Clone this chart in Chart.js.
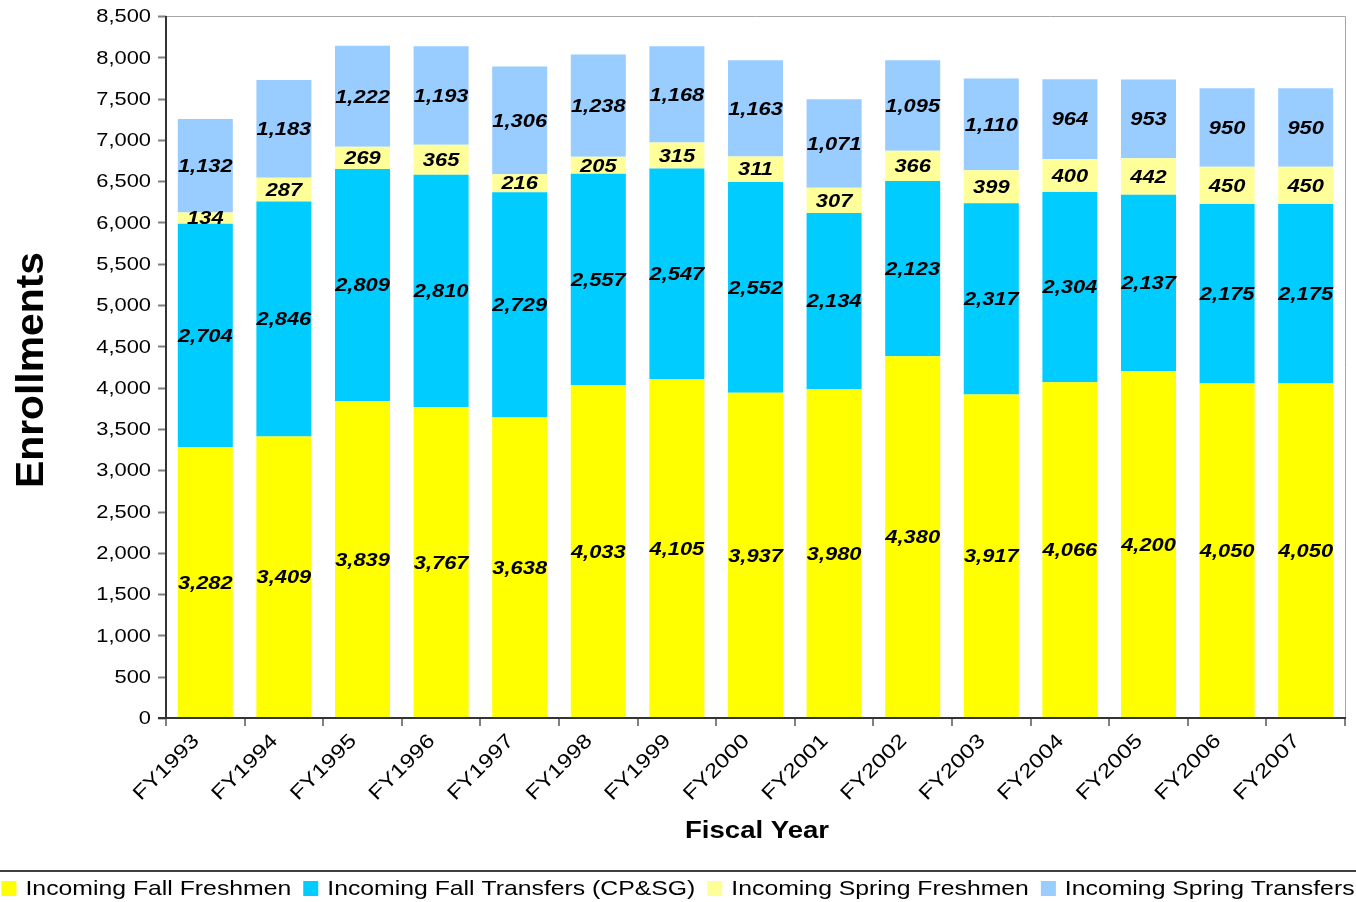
<!DOCTYPE html>
<html>
<head>
<meta charset="utf-8">
<title>Enrollments by Fiscal Year</title>
<script src="https://cdn.jsdelivr.net/npm/chart.js@4.4.1/dist/chart.umd.min.js"></script>
<style>
  html, body { margin: 0; padding: 0; background: #ffffff; overflow: hidden; }
  #wrap { width: 1356px; height: 902px; position: relative; }
</style>
</head>
<body>
<div id="wrap"><canvas id="chart" width="1356" height="902"></canvas></div>
<script>
// Fiscal years shown along the x axis
const fiscalYears = ['FY1993','FY1994','FY1995','FY1996','FY1997','FY1998','FY1999','FY2000',
                     'FY2001','FY2002','FY2003','FY2004','FY2005','FY2006','FY2007'];

// Stacked enrollment series (bottom to top)
const fallFreshmen    = [3282, 3409, 3839, 3767, 3638, 4033, 4105, 3937, 3980, 4380, 3917, 4066, 4200, 4050, 4050];
const fallTransfers   = [2704, 2846, 2809, 2810, 2729, 2557, 2547, 2552, 2134, 2123, 2317, 2304, 2137, 2175, 2175];
const springFreshmen  = [ 134,  287,  269,  365,  216,  205,  315,  311,  307,  366,  399,  400,  442,  450,  450];
const springTransfers = [1132, 1183, 1222, 1193, 1306, 1238, 1168, 1163, 1071, 1095, 1110,  964,  953,  950,  950];

const seriesNames = ['Incoming Fall Freshmen', 'Incoming Fall Transfers (CP&SG)',
                     'Incoming Spring Freshmen', 'Incoming Spring Transfers'];
const seriesColors = ['#FFFF00', '#00CCFF', '#FFFF99', '#99CCFF'];

// Value axis range
const yMin = 0;
const yMax = 8500;
const yStep = 500;

const axisTitleX = 'Fiscal Year';
const axisTitleY = 'Enrollments';

const FONT = '"Liberation Sans", Arial, sans-serif';
const fmt = v => v.toLocaleString('en-US');

// Draw text stretched horizontally by sx (in the text direction)
function wideText(ctx, text, x, y, sx, align, baseline, angle) {
  ctx.save();
  ctx.translate(x, y);
  if (angle) ctx.rotate(angle);
  ctx.scale(sx, 1);
  ctx.textAlign = align;
  ctx.textBaseline = baseline;
  ctx.fillText(text, 0, 0);
  ctx.restore();
}

// Draw text scaled to fill a given width
function fitText(ctx, text, cx, cy, width, angle) {
  const w = ctx.measureText(text).width;
  wideText(ctx, text, cx, cy, width / w, 'center', 'middle', angle);
}

const decorations = {
  id: 'decorations',
  afterDatasetsDraw(chart) {
    const ctx = chart.ctx;
    const area = chart.chartArea;
    const xs = chart.scales.x;
    const ys = chart.scales.y;

    ctx.save();
    // plot frame (top / right)
    ctx.strokeStyle = '#a6a6a6';
    ctx.lineWidth = 1;
    ctx.beginPath();
    ctx.moveTo(area.left, area.top + 0.5);
    ctx.lineTo(area.right + 0.5, area.top + 0.5);
    ctx.lineTo(area.right + 0.5, area.bottom);
    ctx.stroke();

    // tick marks
    ctx.strokeStyle = '#808080';
    ctx.lineWidth = 2;
    ctx.beginPath();
    ys.ticks.forEach((t, i) => {
      const py = Math.round(ys.getPixelForTick(i)) + 0.5;
      ctx.moveTo(area.left - 8, py);
      ctx.lineTo(area.left, py);
    });
    const n = fiscalYears.length;
    const step = xs.getPixelForValue(1) - xs.getPixelForValue(0);
    for (let i = 0; i <= n; i++) {
      const px = i < n ? xs.getPixelForValue(i) - step / 2 : area.right;
      ctx.moveTo(Math.round(px), area.bottom);
      ctx.lineTo(Math.round(px), area.bottom + 8);
    }
    ctx.stroke();

    // axis lines
    ctx.strokeStyle = '#333333';
    ctx.lineWidth = 2;
    ctx.beginPath();
    ctx.moveTo(area.left, area.top);
    ctx.lineTo(area.left, area.bottom + 1);
    ctx.moveTo(area.left - 8, area.bottom);
    ctx.lineTo(area.right + 1, area.bottom);
    ctx.stroke();

    ctx.fillStyle = '#000000';

    // y tick labels
    ctx.font = '19px ' + FONT;
    ys.ticks.forEach((t, i) => {
      wideText(ctx, fmt(t.value), area.left - 15, ys.getPixelForTick(i) + 1, 1.15, 'right', 'middle');
    });

    // x tick labels, rotated 45 degrees
    ctx.font = '20px ' + FONT;
    fiscalYears.forEach((label, i) => {
      const px = xs.getPixelForValue(i);
      wideText(ctx, label, px - 9, area.bottom + 20, 1.2, 'right', 'middle', -Math.PI / 4);
    });

    // segment value labels
    ctx.font = 'italic bold 19px ' + FONT;
    chart.data.datasets.forEach((ds, di) => {
      const meta = chart.getDatasetMeta(di);
      meta.data.forEach((bar, i) => {
        const cy = (bar.y + bar.base) / 2;
        wideText(ctx, fmt(ds.data[i]), bar.x, cy + 1, 1.15, 'center', 'middle');
      });
    });

    // axis titles
    ctx.font = 'bold 38px ' + FONT;
    fitText(ctx, axisTitleY, 33, 370, 236, -Math.PI / 2);
    ctx.font = 'bold 23px ' + FONT;
    fitText(ctx, axisTitleX, 757, 832, 144, 0);

    // legend with a rule above it
    ctx.strokeStyle = '#000000';
    ctx.lineWidth = 1.5;
    ctx.beginPath();
    ctx.moveTo(0, 871);
    ctx.lineTo(chart.width, 871);
    ctx.stroke();

    ctx.font = '21px ' + FONT;
    const sx = 1.18, box = 15, gapBox = 9, gapItem = 12;
    const widths = seriesNames.map(s => ctx.measureText(s).width * sx);
    const total = widths.reduce((a, w) => a + box + gapBox + w, 0) + gapItem * (seriesNames.length - 1);
    let lx = (chart.width - total) / 2;
    const ly = 889;
    seriesNames.forEach((name, i) => {
      ctx.fillStyle = seriesColors[i];
      ctx.fillRect(lx, ly - 8, box, box);
      ctx.fillStyle = '#000000';
      wideText(ctx, name, lx + box + gapBox, ly, sx, 'left', 'middle');
      lx += box + gapBox + widths[i] + gapItem;
    });
    ctx.restore();
  }
};

const seriesData = [fallFreshmen, fallTransfers, springFreshmen, springTransfers];

new Chart(document.getElementById('chart'), {
  type: 'bar',
  data: {
    labels: fiscalYears,
    datasets: seriesNames.map((name, i) => ({
      label: name,
      data: seriesData[i],
      backgroundColor: seriesColors[i],
      borderWidth: 0,
      barPercentage: 0.7,
      categoryPercentage: 1.0
    }))
  },
  options: {
    responsive: false,
    animation: false,
    devicePixelRatio: 1,
    layout: { padding: { top: 16, right: 11, left: 0, bottom: 0 } },
    plugins: {
      legend: { display: false },
      tooltip: { enabled: false },
      title: { display: false }
    },
    scales: {
      x: {
        stacked: true,
        grid: { display: false },
        border: { display: false },
        ticks: { display: false },
        afterFit: s => { s.height = 184; }
      },
      y: {
        stacked: true,
        min: yMin,
        max: yMax,
        ticks: { display: false, stepSize: yStep },
        grid: { display: false },
        border: { display: false },
        afterFit: s => { s.width = 166; }
      }
    }
  },
  plugins: [decorations]
});
</script>
</body>
</html>
